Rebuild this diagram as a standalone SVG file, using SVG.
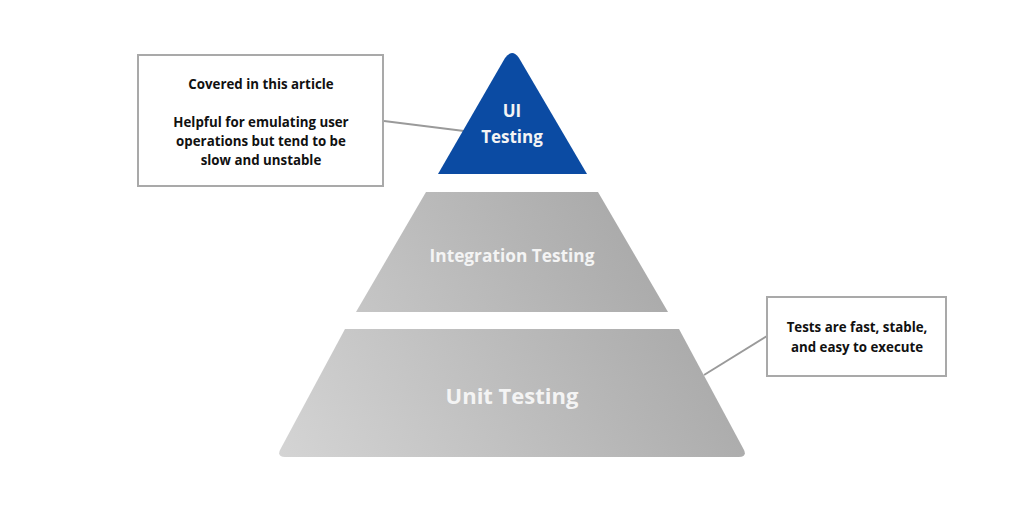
<svg xmlns="http://www.w3.org/2000/svg" width="1024" height="512" viewBox="0 0 1024 512">
<style>
.box{fill:#fff;stroke:#a9a9a9;stroke-width:2}
.conn{stroke:#9a9a9a;stroke-width:2;fill:none}
.bt{font-family:"Open Sans",sans-serif;font-weight:700;font-size:13.3px;fill:#111;text-anchor:middle}
.wt{font-family:"Open Sans",sans-serif;font-weight:700;fill:#f4f4f4;text-anchor:middle}
</style>
<defs>
<linearGradient id="g1" gradientUnits="userSpaceOnUse" x1="290" y1="470" x2="700" y2="200">
<stop offset="0" stop-color="#d4d4d4"/>
<stop offset="1" stop-color="#a3a3a3"/>
</linearGradient>
</defs>
<rect width="1024" height="512" fill="#fff"/>
<g id="connectors">
<line class="conn" x1="384" y1="121" x2="464" y2="131"/>
<line class="conn" x1="767" y1="336" x2="704" y2="375"/>
</g>
<g id="ui">
<path d="M505,58 Q512,48 519,58 L587,174 L438,174 Z" fill="#0b4ba3"/>
<text class="wt" x="512" y="117" font-size="17" fill="#fff">UI</text>
<text class="wt" x="512" y="143" font-size="17">Testing</text>
</g>
<g id="integration">
<path d="M426,192 L598,192 L668,312 L356,312 Z" fill="url(#g1)"/>
<text class="wt" x="512" y="262" font-size="17.3">Integration Testing</text>
</g>
<g id="unit">
<path d="M345,329 L679,329 L744,450 Q747,457 739,457 L285,457 Q277,457 280,450 Z" fill="url(#g1)"/>
<text class="wt" x="512" y="404" font-size="22">Unit Testing</text>
</g>
<g id="note-ui">
<rect class="box" x="138" y="55" width="245" height="131"/>
<text class="bt" x="261" y="89">Covered in this article</text>
<text class="bt" x="261" y="127">Helpful for emulating user</text>
<text class="bt" x="261" y="146">operations but tend to be</text>
<text class="bt" x="261" y="165">slow and unstable</text>
</g>
<g id="note-unit">
<rect class="box" x="767" y="297" width="179" height="79"/>
<text class="bt" x="857" y="332">Tests are fast, stable,</text>
<text class="bt" x="857" y="352">and easy to execute</text>
</g>
</svg>
